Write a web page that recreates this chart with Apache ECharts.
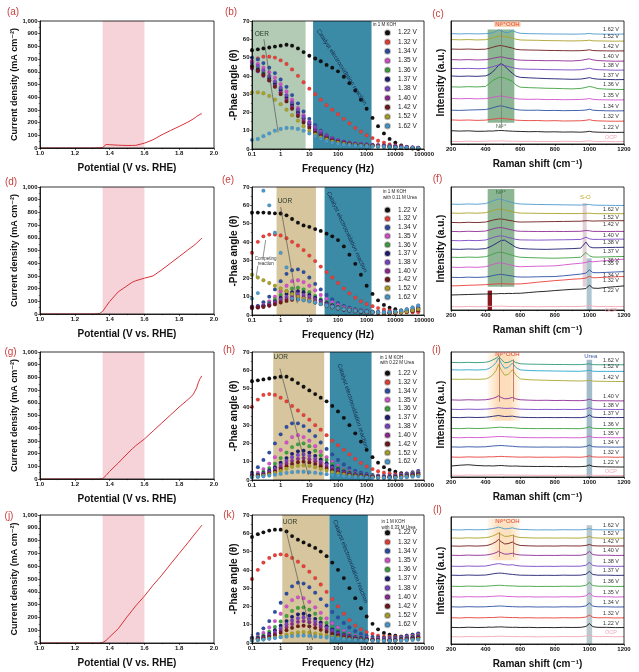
<!DOCTYPE html>
<html><head><meta charset="utf-8">
<script src="https://cdn.jsdelivr.net/npm/echarts@6/dist/echarts.min.js"></script>
<style>html,body{margin:0;padding:0;background:#fff}#c{width:639px;height:672px}</style>
</head><body><div id="c"></div>
<script>
// ================= DATA =================
const potentials = ['1.22 V','1.32 V','1.34 V','1.35 V','1.36 V','1.37 V','1.38 V','1.40 V','1.42 V','1.52 V','1.62 V'];
const ramanLabels = ['OCP','1.22 V','1.32 V','1.34 V','1.35 V','1.36 V','1.37 V','1.38 V','1.40 V','1.42 V','1.52 V','1.62 V'];
const panelLetters = ['(a)','(b)','(c)','(d)','(e)','(f)','(g)','(h)','(i)','(j)','(k)','(l)'];
const xTicksBode = [0.1,1,10,100,1000,10000,100000];

// LSV (current density vs potential)
const lsvX = [1.0,1.1,1.2,1.3,1.34,1.36,1.38,1.40,1.45,1.50,1.53,1.55,1.60,1.65,1.70,1.75,1.80,1.85,1.88,1.90,1.91,1.92,1.93];
const lsvA = [0,0,0,0,1,3,28,26,22,20,20,21,38,65,104,138,170,204,228,248,258,265,270];
const lsvD = [0,0,0,0,2,20,60,98,175,222,250,262,282,300,348,400,452,505,535,558,570,584,598];
const lsvG = [0,0,0,0,0,2,28,60,126,197,237,262,315,378,441,504,567,625,664,717,760,790,812];
const lsvJ = [0,0,0,0,0,3,20,47,112,204,255,290,366,452,530,616,700,783,835,869,885,903,920];
const lsvBand = [1.36,1.6];

// Bode phase (frequency in Hz)
const freq = [0.1,0.16,0.25,0.4,0.63,1,1.6,2.5,4,6.3,10,16,25,40,63,100,160,250,400,630,1000,1600,2500,4000,6300,10000,16000,25000,40000,63000];
const bodeB = [
 [54,54.5,55,55.5,56,56.5,57,56.5,55,53,51,49.5,48,46,44.5,42.5,39.5,36,32,27,22,17,12.5,8.5,5.5,3.5,2,1,0.3,0],
 [48,49.5,50.5,50.5,50,48.5,46.5,43.5,40,36.5,33,30,27,24,21.5,19,16.5,14,11.5,9.5,7.5,6,4.5,3.5,2.5,2,1.5,1,0.5,0.3],
 [50,49,47,44.5,41.5,38,34,29.5,25,20.5,16.5,13,10,7.5,5.8,4.6,3.8,3.2,2.8,2.6,2.4,2.2,2,1.8,1.6,1.4,1.2,1,0.8,0.6],
 [48,46.5,44.5,42,39,35.5,31.5,27,22.5,18.5,15,12,9.5,7.5,6,4.8,4,3.4,3,2.7,2.5,2.3,2.1,1.9,1.7,1.5,1.3,1.1,0.9,0.7],
 [46,44.5,42,39.5,36.5,33,29,25,21,17,14,11,8.8,7,5.6,4.6,3.8,3.2,2.8,2.5,2.3,2.1,1.9,1.7,1.5,1.3,1.1,0.9,0.7,0.5],
 [45,43.5,41,38.5,35.5,32,28,24,20,16.5,13.5,10.5,8.5,6.8,5.4,4.4,3.6,3,2.6,2.3,2.1,1.9,1.7,1.5,1.3,1.1,0.9,0.7,0.5,0.4],
 [47,45.5,43,40,37,33.5,29.5,25.5,21.5,17.5,14.5,11.5,9,7.2,5.8,4.7,3.9,3.3,2.9,2.6,2.4,2.2,2,1.8,1.6,1.4,1.2,1,0.8,0.6],
 [44,42.5,40,37.5,34.5,31,27,23,19,15.5,12.5,10,8,6.4,5.1,4.2,3.5,2.9,2.5,2.2,2,1.8,1.6,1.4,1.2,1,0.8,0.6,0.5,0.4],
 [45,43,40.5,37.5,34,30,26,22,18,14.5,11.5,9,7.2,5.8,4.7,3.9,3.2,2.7,2.3,2,1.8,1.6,1.4,1.2,1,0.8,0.6,0.5,0.4,0.3],
 [31,31,30.5,29,27,24.5,21.5,18.5,15.5,12.5,10,8,6.4,5.2,4.2,3.5,2.9,2.5,2.2,2,1.8,1.6,1.4,1.2,1,0.8,0.6,0.5,0.4,0.3],
 [5,5.5,7,8.5,10,11,11.5,11.5,11,10,8.5,7,5.5,4.3,3.4,2.8,2.4,2.1,1.9,1.7,1.5,1.3,1.2,1.1,1,0.9,0.8,0.7,0.6,0.5]
];
const bodeE = [
 [56,56,56,55.8,55.6,55.5,54.5,52.5,50.5,49,48.2,47,46,44.5,43,41,37.5,33,28,22,16,11.5,8,5.5,4,3.2,2.5,2,2,2],
 [34,40,43,44,44,43.5,42,40,38,35.5,32.5,29.5,26.5,23.5,20.5,17.5,14.5,11.8,9.5,7.5,6,4.8,3.8,3,2.5,2,1.7,1.5,1.5,1.6],
 [4,5,7,10,14,18.5,22.5,24.5,25,23.5,20.5,17,14,11,8.5,6.5,5,4,3.2,2.6,2.2,1.9,1.7,1.6,1.6,1.8,2.2,3,4,5],
 [4,4.5,5.5,7.5,10,13,16,18.5,19,18,16,13.5,11,8.8,7,5.5,4.3,3.5,2.9,2.5,2.1,1.8,1.6,1.5,1.5,1.6,2,2.6,3.4,4.2],
 [4,4.5,5,6.5,8.5,11,13,14.5,15,14,12.5,10.5,8.7,7,5.6,4.5,3.6,3,2.5,2.1,1.8,1.6,1.4,1.3,1.3,1.4,1.8,2.3,3,3.8],
 [4.5,4.5,5,6,7.5,9.5,11.5,12.5,13,12.5,11,9.5,8,6.5,5.2,4.2,3.4,2.8,2.3,2,1.7,1.5,1.3,1.2,1.2,1.3,1.6,2.1,2.8,3.5],
 [4.5,4.5,5,5.8,7,8.5,10,11,11.5,11,10,8.7,7.3,6,4.9,4,3.3,2.7,2.2,1.9,1.6,1.4,1.2,1.1,1.1,1.2,1.5,2,2.6,3.3],
 [4,4.2,4.6,5.3,6.3,7.6,8.8,9.6,10,9.6,8.8,7.8,6.6,5.5,4.5,3.7,3,2.5,2.1,1.8,1.5,1.3,1.2,1.1,1.1,1.2,1.4,1.8,2.4,3],
 [4,4.1,4.4,5,5.8,6.8,7.7,8.3,8.5,8.2,7.6,6.8,5.9,5,4.2,3.5,2.9,2.4,2,1.7,1.5,1.3,1.1,1,1,1.1,1.3,1.7,2.2,2.8],
 [22,20.5,19,17.5,16,14.5,13,11.5,10,9,8,7,6,5.2,4.5,3.8,3.2,2.7,2.3,2,1.7,1.5,1.3,1.2,1.2,1.3,1.5,1.9,2.5,3.2],
 [9,12,68,60,45,34,26,9,8.5,8,7.5,6.8,6,5.2,4.5,3.8,3.2,2.7,2.3,2,1.8,1.6,1.5,1.5,1.6,1.9,2.4,3.2,4.2,5.2]
];
const bodeH = [
 [54,54.5,55,55.5,56,56.5,56.5,55,53,51,49,47,45,43,40.5,37.5,34,30,25.5,21,16.5,12.5,9.5,7,5.5,4.5,3.8,3.3,3,3],
 [40,44,46.5,47,46.5,45,43,40.5,38,35.5,33,30,27.5,24.5,21.5,19,16.5,14,11.5,9.3,7.4,6,4.8,4,3.5,3.2,3.2,3.4,3.8,4.3],
 [4,7,11,15,20,25,29,31,31,29.5,27,24,20.5,17,14,11,8.5,6.5,5,4,3.3,2.8,2.5,2.3,2.3,2.5,3,3.6,4.3,5],
 [3,4,6,9,12.5,16.5,20.5,23.5,24.5,23.5,21.5,18.5,15.5,12.5,10,7.8,6,4.8,3.8,3.1,2.6,2.3,2.1,2,2,2.2,2.6,3.1,3.7,4.3],
 [2.5,3,4.5,6.5,9,12,15,18,19.5,20,18.5,16,13.5,11,8.8,6.9,5.4,4.3,3.5,2.9,2.4,2.1,1.9,1.8,1.8,2,2.3,2.8,3.3,3.9],
 [2.5,2.8,3.8,5.2,7,9.5,12,14.3,15.7,16,15,13.2,11.2,9.2,7.4,5.9,4.7,3.8,3.1,2.6,2.2,1.9,1.7,1.6,1.6,1.8,2.1,2.5,3,3.5],
 [2.5,2.7,3.4,4.6,6.2,8.3,10.5,12.5,13.7,14,13.2,11.7,10,8.3,6.7,5.4,4.3,3.5,2.9,2.4,2,1.8,1.6,1.5,1.5,1.6,1.9,2.3,2.7,3.2],
 [2,2.3,3,4,5.3,7,8.9,10.5,11.6,12,11.4,10.2,8.8,7.3,6,4.9,3.9,3.2,2.6,2.2,1.9,1.7,1.5,1.4,1.4,1.5,1.7,2.1,2.5,3],
 [2,2.2,2.7,3.5,4.6,6,7.5,8.8,9.7,10,9.6,8.7,7.5,6.3,5.2,4.3,3.5,2.9,2.4,2,1.7,1.5,1.4,1.3,1.3,1.4,1.6,1.9,2.3,2.7],
 [1.8,2,2.4,3,3.9,5,6.2,7.2,7.8,8,7.7,7,6.1,5.2,4.3,3.6,3,2.5,2.1,1.8,1.5,1.4,1.3,1.2,1.2,1.3,1.5,1.8,2.1,2.5],
 [1.5,1.7,2,2.4,2.9,3.4,3.9,4.3,4.5,4.5,4.3,4,3.6,3.2,2.8,2.4,2.1,1.8,1.6,1.4,1.3,1.2,1.1,1.1,1.1,1.2,1.3,1.5,1.8,2]
];
const bodeK = [
 [58,59.5,60.5,61.5,62,62,61,58.5,56.5,55,53.5,52,50,47.5,44,40,35.5,30,24.5,19,14.5,10.5,7.5,5.5,4.5,4,3.5,3,3,3],
 [35,40,44,46.5,48,48.5,48,46.5,44.5,42,39,35.5,32,28,24,20,16,12.5,9.5,7.5,6,5,4,3.5,3.5,3.5,3.5,4,4.5,5],
 [3,5,8,12,17,22,27,31,33,32.5,30.5,27.5,24,20.5,17,14,11,8.5,6.5,5,4,3.4,3,2.8,2.8,3,3.4,4,4.6,5.2],
 [2.5,3.5,5.5,8.5,12,16,20,23.5,25,24.5,22.5,19.5,16.5,13.5,10.8,8.5,6.6,5.1,4,3.2,2.7,2.4,2.2,2.1,2.1,2.3,2.7,3.2,3.8,4.4],
 [2.5,3,4.2,6.2,8.8,11.8,14.8,17.5,19.2,19.5,18.2,16,13.5,11,8.8,6.9,5.4,4.3,3.5,2.9,2.4,2.1,1.9,1.8,1.8,2,2.3,2.8,3.3,3.9],
 [2.2,2.6,3.5,5,7,9.5,12,14.3,15.7,16,15,13.2,11.2,9.2,7.4,5.9,4.7,3.8,3.1,2.6,2.2,1.9,1.7,1.6,1.6,1.8,2.1,2.5,3,3.5],
 [2,2.4,3.1,4.3,6,8.1,10.3,12.3,13.6,14,13.2,11.7,10,8.3,6.7,5.4,4.3,3.5,2.9,2.4,2,1.8,1.6,1.5,1.5,1.6,1.9,2.3,2.7,3.2],
 [2,2.2,2.8,3.8,5.1,6.8,8.7,10.4,11.6,12,11.4,10.2,8.8,7.3,6,4.9,3.9,3.2,2.6,2.2,1.9,1.7,1.5,1.4,1.4,1.5,1.7,2.1,2.5,3],
 [1.8,2,2.5,3.3,4.3,5.6,7,8.3,9.2,9.5,9.1,8.3,7.2,6.1,5,4.1,3.4,2.8,2.3,1.9,1.7,1.5,1.4,1.3,1.3,1.4,1.6,1.9,2.3,2.7],
 [1.5,1.7,2,2.5,3.1,3.8,4.6,5.3,5.8,6,5.8,5.3,4.7,4.1,3.5,3,2.5,2.1,1.8,1.6,1.4,1.3,1.2,1.1,1.1,1.2,1.4,1.6,1.9,2.2],
 [1.4,1.6,1.9,2.3,2.7,3.1,3.5,3.8,4,4.1,3.9,3.6,3.3,3,2.7,2.4,2.1,1.8,1.6,1.4,1.3,1.2,1.1,1.1,1.1,1.2,1.3,1.5,1.7,1.9]
];

// Raman spectra (offset intensities, a.u.), order = ramanLabels
const ramanX = [200,250,300,350,400,420,440,460,475,490,510,530,555,575,600,650,700,750,800,850,900,950,980,1000,1020,1050,1100,1150,1200];
const ramanC = [
 [2.2,2.0,2.3,2.1,2.2,2.4,2.3,2.5,2.4,2.6,2.4,2.3,2.2,2.3,2.1,2.2,2.0,2.1,2.0,2.2,2.1,2.0,2.3,2.6,2.2,2.0,2.1,1.9,2.0],
 [10.8,10.5,10.7,10.3,10.4,10.6,10.5,10.8,10.9,11.0,10.8,10.6,10.4,10.3,10.2,10.0,10.1,9.8,9.9,9.7,9.8,9.6,9.9,10.3,9.8,9.6,9.5,9.4,9.5],
 [19.6,19.3,19.5,19.2,19.4,19.8,20.2,20.5,20.8,21.0,20.6,20.3,19.9,19.4,19.2,19.0,19.1,18.8,19.0,18.7,18.8,18.9,19.3,19.8,19.1,18.8,18.6,18.5,18.6],
 [27.5,27.3,27.6,27.8,28.0,28.6,29.4,30.2,30.8,31.0,30.4,29.6,28.8,28.0,27.6,27.4,27.5,27.2,27.3,27.1,27.2,27.3,27.6,28.3,27.5,27.2,27.0,26.9,27.0],
 [37.0,36.8,37.0,36.7,36.9,37.3,37.9,38.4,38.8,39.0,38.6,38.0,37.4,36.8,36.5,36.3,36.4,36.1,36.2,36.0,36.1,36.2,36.5,37.0,36.3,36.0,35.9,35.8,35.9],
 [46.5,46.3,46.6,46.4,46.8,49.0,51.5,53.0,54.0,54.4,53.6,52.5,51.0,48.0,46.2,45.8,45.6,45.3,45.2,45.0,44.8,45.2,46.0,46.8,46.2,45.0,44.6,44.4,44.3],
 [55.3,55.0,55.2,55.0,55.4,56.5,58.5,61.5,64.0,65.5,63.5,60.5,57.5,55.2,54.2,53.8,53.5,53.2,53.0,52.8,52.6,52.8,53.4,54.0,53.2,52.7,52.5,52.3,52.4],
 [61.5,61.3,61.5,61.2,61.4,62.0,62.8,63.6,64.2,64.4,63.8,63.0,62.2,61.4,61.0,60.8,60.7,60.5,60.4,60.3,60.2,60.4,61.0,61.6,60.8,60.4,60.2,60.0,60.1],
 [68.6,68.4,68.6,68.3,68.5,69.0,69.6,70.2,70.6,70.8,70.3,69.7,69.2,68.5,68.2,68.0,67.9,67.7,67.8,67.6,67.5,68.0,68.8,69.2,68.4,67.8,67.5,67.3,67.4],
 [77.2,77.0,77.2,76.9,77.1,77.8,78.6,79.4,79.9,80.0,79.5,78.8,78.0,77.0,76.6,76.4,76.3,76.1,76.0,75.9,75.8,75.9,76.2,76.6,76.0,75.8,75.7,75.6,75.7],
 [84.9,84.7,84.9,84.6,84.8,85.4,86.2,87.0,87.6,87.8,87.4,86.8,86.2,85.2,84.6,84.4,84.3,84.1,84.0,83.9,83.8,83.9,84.1,84.4,83.9,83.8,83.7,83.6,83.7],
 [89.7,89.5,89.7,89.5,89.7,89.9,90.4,91.5,92.8,92.0,90.8,90.6,92.2,91.0,90.0,89.7,89.6,89.5,89.4,89.4,89.3,89.4,89.6,89.9,89.5,89.4,89.3,89.3,89.4]
];
const ramanF = [
 [2.8,2.6,2.9,2.7,2.8,3.0,2.9,3.1,3.0,3.2,3.0,2.9,2.8,2.9,2.7,2.8,2.6,2.8,2.7,2.9,2.8,2.9,3.2,3.8,3.1,2.8,2.9,2.7,2.8],
 [12.2,12.4,12.6,12.8,13.0,13.0,13.2,13.1,13.3,13.4,13.3,13.5,13.4,13.6,13.6,14.2,14.8,15.2,15.8,16.3,16.8,17.0,17.4,20.2,17.8,17.6,18.4,19.0,19.6],
 [19.6,19.8,20.1,20.3,20.6,20.8,21.0,21.2,21.3,21.4,21.3,21.2,21.1,21.2,21.2,21.8,22.6,23.2,23.9,24.4,25.0,25.4,26.0,27.4,26.2,26.3,26.7,27.0,27.2],
 [26.6,26.4,26.7,26.5,26.8,27.3,27.9,28.5,28.8,29.0,28.6,28.1,27.6,27.0,26.8,26.8,27.0,27.1,27.2,27.8,28.5,29.2,30.0,32.6,30.4,30.3,30.6,30.9,31.2],
 [34.8,34.6,34.9,34.7,35.2,36.0,37.0,37.8,38.2,38.3,37.8,37.0,36.3,35.5,35.2,35.4,35.6,35.7,35.9,36.6,37.4,38.0,38.6,39.6,39.2,39.6,40.2,40.8,41.3],
 [42.9,42.7,43.0,42.8,43.3,44.2,45.4,46.4,46.9,47.0,46.4,45.5,44.5,43.5,42.9,42.6,42.4,42.2,42.1,42.3,42.5,42.9,46.8,44.0,43.1,43.0,43.2,43.4,43.5],
 [49.5,49.3,49.6,49.4,49.9,51.0,52.4,54.0,55.3,56.5,56.8,55.0,52.8,51.0,50.0,49.6,49.4,49.3,49.5,49.7,49.9,50.3,55.2,51.4,50.6,50.6,50.8,50.9,51.0],
 [56.5,56.3,56.6,56.4,56.9,57.8,58.8,59.6,60.1,60.3,59.8,59.0,58.2,57.4,57.0,56.9,56.8,56.9,57.0,57.1,57.2,57.4,59.2,57.9,57.4,57.4,57.5,57.6,57.6],
 [63.9,63.7,64.0,63.8,64.2,65.0,65.9,66.6,66.9,67.0,66.5,65.8,65.0,64.3,64.0,63.9,63.8,63.8,63.9,63.8,63.9,64.0,64.6,64.4,63.9,63.9,63.8,63.9,63.9],
 [71.2,71.0,71.3,71.1,71.5,72.2,73.0,73.6,73.9,74.0,73.6,73.0,72.4,71.8,71.5,71.6,71.7,71.8,71.9,72.0,72.1,72.2,72.6,72.5,72.3,72.4,72.5,72.6,72.6],
 [78.8,78.6,78.9,78.7,79.1,79.9,80.8,81.5,81.9,82.0,81.5,80.7,80.0,79.2,78.8,78.7,78.6,78.5,78.5,78.4,78.4,78.4,78.6,78.7,78.4,78.3,78.3,78.3,78.3],
 [86.1,85.9,86.2,86.0,86.5,87.4,88.6,89.6,90.2,90.0,89.2,88.2,87.4,86.6,86.2,86.0,85.8,85.7,85.6,85.5,85.4,85.3,85.6,85.8,85.3,85.2,85.1,85.0,85.0]
];
const ramanI = [
 [1.5,1.3,1.6,1.4,1.5,1.6,1.5,1.7,1.6,1.8,1.6,1.5,1.6,1.5,1.4,1.5,1.3,1.4,1.3,1.5,1.4,1.3,1.5,1.8,1.4,1.3,1.4,1.2,1.3],
 [8.8,9.4,9.8,9.2,8.9,9.0,8.8,9.0,9.1,9.2,9.0,8.8,8.7,8.8,8.6,8.5,8.4,8.5,8.3,8.4,8.2,8.3,8.6,9.6,8.5,8.2,8.1,8.0,8.0],
 [16.0,15.8,16.1,15.9,16.0,16.2,16.1,16.3,16.4,16.5,16.3,16.2,16.1,16.0,15.9,16.0,15.8,15.9,15.8,16.0,15.9,15.8,16.2,17.0,16.1,15.9,16.0,15.8,15.9],
 [24.1,23.9,24.2,24.0,24.2,24.5,24.8,25.0,25.1,25.2,25.0,24.8,24.6,24.3,24.1,24.0,23.9,24.0,23.9,24.0,23.9,23.9,24.3,25.6,24.2,24.0,24.0,23.9,24.0],
 [31.6,31.4,31.7,31.5,31.7,31.9,32.1,32.3,32.4,32.4,32.3,32.1,32.0,31.8,31.6,31.5,31.4,31.5,31.4,31.5,31.4,31.4,31.8,32.8,31.7,31.5,31.5,31.4,31.5],
 [38.9,38.7,39.0,38.8,39.0,39.2,39.4,39.6,39.8,39.8,39.6,39.5,39.5,39.2,38.9,38.8,38.7,38.8,38.7,38.8,38.7,38.7,39.2,40.3,39.0,38.8,38.8,38.7,38.8],
 [47.7,47.5,47.8,47.6,47.8,48.1,48.5,48.9,49.2,48.8,48.4,48.5,48.7,48.2,47.8,47.6,47.5,47.6,47.5,47.6,47.5,47.5,48.0,49.7,47.9,47.6,47.6,47.5,47.6],
 [54.2,54.0,54.3,54.1,54.3,54.5,54.8,55.1,55.4,55.2,54.9,54.9,55.1,54.7,54.3,54.1,54.0,54.1,54.0,54.1,54.0,54.0,54.4,55.5,54.3,54.1,54.1,54.0,54.1],
 [61.7,61.5,61.8,61.6,61.8,62.2,62.8,63.8,65.0,63.6,62.6,62.7,63.7,62.5,61.8,61.5,61.3,61.4,61.2,61.3,61.1,61.1,61.4,62.3,61.2,61.0,61.0,60.9,60.9],
 [78.3,78.1,78.3,78.1,78.4,79.5,81.5,85.0,90.0,85.5,81.5,82.0,85.8,81.5,78.5,77.8,77.6,77.4,77.2,77.1,76.9,76.8,77.0,77.4,76.7,76.6,76.5,76.4,76.4],
 [85.8,85.6,85.8,85.6,85.9,86.8,88.6,91.5,95.2,91.0,87.0,87.6,91.2,87.6,85.7,85.2,85.0,84.9,84.8,84.7,84.6,84.6,84.9,85.4,84.6,84.5,84.5,84.5,84.5],
 [91.7,91.5,91.7,91.5,91.8,92.4,93.6,95.0,96.5,94.2,91.5,91.6,93.3,91.6,90.6,90.3,90.2,90.1,90.0,90.0,89.9,89.9,90.2,90.6,89.9,89.8,89.8,89.8,89.8]
];
const ramanL = [
 [5.8,5.6,5.9,5.7,5.8,6.0,5.9,6.1,6.0,6.2,6.0,5.9,5.8,5.9,5.7,5.8,5.6,5.8,5.7,5.9,5.8,5.8,6.2,7.3,6.0,5.8,5.9,5.7,5.8],
 [13.1,12.9,13.2,13.0,13.1,13.3,13.2,13.4,13.4,13.5,13.3,13.2,13.1,13.2,13.0,13.1,12.9,13.0,12.9,13.1,13.0,13.1,13.8,16.1,13.6,13.1,13.1,12.9,13.0],
 [20.7,20.5,20.8,20.6,20.7,20.9,20.8,21.0,21.1,21.2,21.0,20.9,20.8,20.8,20.6,20.7,20.5,20.6,20.5,20.7,20.6,20.7,21.2,22.8,21.0,20.6,20.7,20.5,20.6],
 [29.3,29.1,29.4,29.2,29.3,29.5,29.6,29.8,29.9,29.9,29.7,29.5,29.4,29.3,29.2,29.3,29.1,29.2,29.1,29.3,29.2,29.3,30.0,32.3,29.8,29.3,29.3,29.1,29.2],
 [37.2,37.0,37.3,37.1,37.2,37.4,37.5,37.7,37.8,37.8,37.6,37.4,37.3,37.2,37.1,37.2,37.0,37.1,37.0,37.2,37.1,37.2,37.9,40.2,37.7,37.2,37.2,37.0,37.1],
 [45.5,45.3,45.6,45.4,45.5,45.7,45.9,46.1,46.2,46.2,46.0,45.8,45.7,45.6,45.4,45.5,45.3,45.4,45.3,45.5,45.4,45.5,46.2,48.5,46.0,45.5,45.5,45.3,45.4],
 [54.2,54.0,54.3,54.1,54.3,54.7,55.2,55.6,55.8,55.8,55.5,55.1,54.8,54.5,54.2,54.1,54.0,54.1,54.0,54.2,54.1,54.2,54.9,57.2,54.7,54.2,54.2,54.0,54.1],
 [61.3,61.1,61.4,61.2,61.4,61.9,62.5,63.0,63.3,63.0,62.5,62.2,62.4,61.9,61.4,61.2,61.1,61.2,61.1,61.3,61.2,61.3,62.0,64.3,61.8,61.3,61.3,61.1,61.2],
 [69.9,69.7,70.0,69.8,70.0,70.4,71.0,71.9,73.0,71.8,70.8,70.8,71.5,70.6,70.1,69.9,69.7,69.8,69.7,69.9,69.8,69.9,70.6,72.9,70.4,69.9,69.9,69.7,69.8],
 [77.2,77.0,77.3,77.1,77.4,78.0,79.0,80.5,82.3,80.5,78.8,79.0,80.3,78.6,77.6,77.3,77.1,77.2,77.1,77.3,77.2,77.2,77.6,78.4,77.4,77.2,77.2,77.1,77.2],
 [83.5,83.3,83.6,83.4,83.7,84.2,85.0,86.2,87.4,86.2,84.8,84.8,85.6,84.5,83.8,83.6,83.4,83.5,83.4,83.5,83.4,83.4,83.8,84.8,83.6,83.4,83.4,83.3,83.4],
 [90.0,89.8,90.1,89.9,90.1,90.4,90.9,91.5,92.1,91.5,90.7,90.8,91.5,90.7,90.2,90.0,89.8,89.9,89.8,90.0,89.9,89.9,90.2,90.8,90.0,89.9,89.9,89.8,89.9]
];

// ================= STYLE =================
const FONT = '"Liberation Sans", Arial, "DejaVu Sans", sans-serif';
const seriesColors = ['#111111','#e8403a','#2d4fa3','#d452cc','#3fa142','#1e1e72','#7b45c4','#8e2b94','#6f1b1b','#aaa22a','#4b9acb'];
const OCP_COLOR = '#f2a7b6';
const LSV_COLOR = '#d8323a';

const option = {animation:false, backgroundColor:'#fff', grid:[], xAxis:[], yAxis:[], series:[], legend:[]};

function deepMerge(a,b){ for(const k in b){ if(b[k] && typeof b[k]==='object' && !Array.isArray(b[k]) && !(b[k] instanceof echarts.graphic.LinearGradient) && a[k] && typeof a[k]==='object') deepMerge(a[k],b[k]); else a[k]=b[k]; } return a; }
function axisBase(name,gap,extra){
  return deepMerge({
    name, nameLocation:'middle', nameGap:gap, z:6,
    nameTextStyle:{fontFamily:FONT,fontWeight:'bold',fontSize:10,color:'#111'},
    axisLine:{show:true,onZero:false,lineStyle:{color:'#000',width:0.8}},
    axisTick:{show:true,inside:false,length:2,lineStyle:{color:'#000',width:0.6}},
    minorTick:{show:true,splitNumber:2,length:1.2,lineStyle:{color:'#000',width:0.5}},
    axisLabel:{fontFamily:FONT,fontWeight:'bold',fontSize:6,color:'#111',margin:2.5},
    splitLine:{show:false}, minorSplitLine:{show:false}
  }, extra||{});
}
function addGrid(r){ option.grid.push({left:r[0],top:r[1],width:r[2],height:r[3],show:true,borderColor:'#000',borderWidth:0.8,backgroundColor:'transparent',z:6,outerBoundsMode:'none',containLabel:false}); return option.grid.length-1; }

function lsvPanel(rect, vals){
  const gi = addGrid(rect);
  option.xAxis.push(axisBase('Potential (V vs. RHE)',15,{gridIndex:gi,type:'value',min:1,max:2,interval:0.2,axisLabel:{formatter:v=>v.toFixed(1)}}));
  option.yAxis.push(axisBase('Current density (mA cm⁻²)',16,{gridIndex:gi,type:'value',min:0,max:1000,interval:100,nameTextStyle:{fontSize:9}}));
  option.series.push({type:'line',xAxisIndex:gi,yAxisIndex:gi,data:lsvX.map((x,i)=>[x,vals[i]]),symbol:'none',lineStyle:{color:LSV_COLOR,width:1},z:3,
    markArea:{silent:true,itemStyle:{color:'rgba(230,140,152,0.38)'},data:[[{xAxis:lsvBand[0]},{xAxis:lsvBand[1]}]]}});
}
function bodePanel(rect, sets, bands, arrows, legendTop, legendGap){
  const gi = addGrid(rect);
  option.xAxis.push(axisBase('Frequency (Hz)',15,{gridIndex:gi,type:'log',logBase:10,min:xTicksBode[0],max:xTicksBode[xTicksBode.length-1],
    axisLabel:{formatter:v=> v<1 ? v.toFixed(1) : String(Math.round(v))}}));
  option.yAxis.push(axisBase('-Phae angle (θ)',11,{gridIndex:gi,type:'value',min:0,max:70,interval:10}));
  sets.forEach((vals,k)=>{
    const s = {type:'scatter',name:potentials[k],xAxisIndex:gi,yAxisIndex:gi,symbol:'circle',symbolSize:3.8,
      itemStyle:{color:seriesColors[k],opacity:1,borderColor:'rgba(0,0,0,0.25)',borderWidth:0.3},data:freq.map((f,i)=>[f,vals[i]]),z:3};
    if(k===0){
      s.markArea = {silent:true,data:bands.map(b=>[{xAxis:b[0],itemStyle:{color:b[2]}},{xAxis:b[1]}])};
      s.markLine = {silent:true,symbol:['none','arrow'],symbolSize:[0,4],label:{show:false},lineStyle:{color:'#444',width:0.6,type:'solid'},
        data:arrows.map(a=>[{coord:[a[0],a[1]]},{coord:[a[2],a[3]]}])};
    }
    option.series.push(s);
  });
  option.legend.push({data:potentials,left:384,top:legendTop,orient:'vertical',padding:0,itemWidth:5,itemHeight:5,itemGap:legendGap,icon:'circle',selectedMode:false,
    textStyle:{fontFamily:FONT,fontSize:6.5,color:'#222',lineHeight:8,padding:[0,0,0,3]}});
}
function ramanPanel(rect, sets, colorOverride, areas, vlines){
  const gi = addGrid(rect);
  option.xAxis.push(axisBase('Raman shift (cm⁻¹)',15,{gridIndex:gi,type:'value',min:200,max:1200,interval:200,axisLabel:{formatter:v=>String(v)}}));
  option.yAxis.push(axisBase('Intensity (a.u.)',5,{gridIndex:gi,type:'value',min:0,max:100,axisLabel:{show:false},axisTick:{show:false},minorTick:{show:false}}));
  sets.forEach((vals,k)=>{
    const nm = ramanLabels[k];
    const col = k===0 ? OCP_COLOR : (colorOverride[nm] || seriesColors[k-1]);
    const s = {type:'line',name:nm,xAxisIndex:gi,yAxisIndex:gi,symbol:'none',lineStyle:{color:col,width:0.9},data:ramanX.map((x,i)=>[x,vals[i]]),z:3};
    if(k===0){
      s.markArea = {silent:true,data:areas.map(a=>[{coord:[a.x[0],a.y[0]],itemStyle:{color:a.color}},{coord:[a.x[1],a.y[1]]}])};
      s.markLine = {silent:true,symbol:['none','none'],label:{show:false},data:vlines.map(v=>[{coord:[v.x,v.y[0]],lineStyle:{color:v.color,width:0.7,type:'solid'}},{coord:[v.x,v.y[1]]}])};
    }
    option.series.push(s);
  });
}

const TEAL = '#3b8ba7', TAN = '#d6c59d', SAGE = '#b3cbb5';
const orangeGrad = new echarts.graphic.LinearGradient(0,0,1,0,[{offset:0,color:'rgba(252,205,150,0.15)'},{offset:0.3,color:'rgba(250,195,130,0.55)'},{offset:0.7,color:'rgba(250,195,130,0.55)'},{offset:1,color:'rgba(252,205,150,0.15)'}]);
const orangeGrad2 = new echarts.graphic.LinearGradient(0,0,1,0,[{offset:0,color:'rgba(252,205,150,0.15)'},{offset:0.3,color:'rgba(250,195,130,0.5)'},{offset:0.7,color:'rgba(250,195,130,0.5)'},{offset:1,color:'rgba(252,205,150,0.15)'}]);

// Row 1
lsvPanel([40,21,174,127], lsvA);
bodePanel([252,21,172,128], bodeB, [[0.1,7.4,SAGE],[13.5,1480,TEAL]], [[0.26,60,0.82,9]], 28.7, 1.33);
ramanPanel([451,21,173,123], ramanC, {}, [{x:[412,566],y:[17.3,93],color:'rgba(70,135,80,0.62)'}], [{x:490,y:[12.7,93],color:'#777'}]);
// Row 2
lsvPanel([40,187,174,127], lsvD);
bodePanel([252,187,172,128], bodeE, [[0.72,17,TAN],[34,1480,TEAL]], [[1.0,59,3.8,6.4],[0.24,31,0.3,41],[0.16,27,0.14,21]], 206, 0.7);
ramanPanel([451,187,173,123], ramanF, {}, [
  {x:[412,566],y:[19,98.4],color:'rgba(70,135,80,0.62)'},
  {x:[961,984],y:[19,87],color:'rgba(200,170,180,0.55)'},
  {x:[984,1013],y:[0,42],color:'rgba(110,150,170,0.55)'},
  {x:[412,437],y:[0,15.8],color:'#8a1a1e'}], [{x:490,y:[19,98.4],color:'#777'}]);
// Row 3
lsvPanel([40,352,174,127], lsvG);
bodePanel([252,352,172,128], bodeH, [[0.55,33,TAN],[52,1480,TEAL]], [[0.94,61,9.2,2.7]], 369.3, 0.84);
ramanPanel([451,352,173,125], ramanI, {'1.42 V':'#a9a832','1.52 V':'#2aa6c8','1.62 V':'#2e9a78'}, [
  {x:[412,599],y:[45,99],color:orangeGrad},
  {x:[984,1016],y:[0,93.8],color:'rgba(100,145,165,0.6)'}], [{x:477,y:[60.3,96.5],color:'#b05040'},{x:557,y:[60.3,94],color:'#b05040'}]);
// Row 4
lsvPanel([40,515,174,128], lsvJ);
bodePanel([252,515,172,128], bodeK, [[1.14,49,TAN],[50,1100,TEAL]], [[1.52,61.8,13,1.6]], 528.7, 1.2);
ramanPanel([451,517,173,127], ramanL, {}, [
  {x:[412,600],y:[66,98.7],color:orangeGrad2},
  {x:[984,1016],y:[0,93.5],color:'rgba(120,150,160,0.5)'}], [{x:477,y:[68.6,88],color:'#b05040'},{x:557,y:[68.6,86],color:'#b05040'}]);

const chart = echarts.init(document.getElementById('c'), null, {renderer:'canvas', width:639, height:672});
chart.setOption(option);

// ================= ANNOTATIONS =================
const graphics = [];
function px(gi,x,y){ return chart.convertToPixel({xAxisIndex:gi,yAxisIndex:gi},[x,y]); }
function txt(x,y,text,opt){ opt=opt||{}; graphics.push({type:'text',x,y,rotation:opt.rot||0,z:20,style:{text,fill:opt.fill||'#222',font:(opt.weight||'normal')+' '+(opt.size||6)+'px '+FONT,align:opt.align||'center',verticalAlign:'middle',backgroundColor:opt.bg,padding:opt.bg?[0,1]:0}}); }

const letterPos = [[13,12.5],[231,12],[438,14],[11,182.5],[228,180.7],[437.5,179],[10.5,352.7],[229,350.7],[436.5,350],[9,516],[229,515],[437.5,510.7]];
panelLetters.forEach((t,i)=>txt(letterPos[i][0],letterPos[i][1],t,{fill:'#c8403e',size:10}));

// Bode headers
txt(373,25,'in 1 M KOH',{align:'left',size:4.5});
txt(383,192,'in 1 M KOH',{align:'left',size:4.5}); txt(383,197.5,'with 0.11 M Urea',{align:'left',size:4.5});
txt(380,357.5,'in 1 M KOH',{align:'left',size:4.5}); txt(380,363,'with 0.22 M Urea',{align:'left',size:4.5});
txt(381.5,522,'in 1 M KOH',{align:'left',size:4.5}); txt(381.5,527.5,'with 0.33 M Urea',{align:'left',size:4.5});

// Bode notes (data coords)
const bodeNotes = [
  {gi:1,t:'OER',p:[0.22,63]},{gi:4,t:'UOR',p:[1.4,62]},{gi:7,t:'UOR',p:[1.0,67]},{gi:10,t:'UOR',p:[2.1,66]}];
bodeNotes.forEach(n=>{const q=px(n.gi,n.p[0],n.p[1]); txt(q[0],q[1],n.t,{size:6.5,fill:'#2a3a2a'});});
const catalyst = [{gi:1,p:[135,44.8],a:57.5},{gi:4,p:[205,45.4],a:65},{gi:7,p:[328,40.5],a:72},{gi:10,p:[268,44.6],a:69}];
catalyst.forEach(n=>{const q=px(n.gi,n.p[0],n.p[1]); txt(q[0],q[1],'Catalyst electrooxidation reaction',{size:6,fill:'#16284a',rot:-n.a*Math.PI/180});});
{const q=px(4,0.3,29.3); graphics.push({type:'text',x:q[0],y:q[1],z:20,style:{text:'Competing\nreaction',fill:'#333',font:'normal 4.5px '+FONT,align:'center',verticalAlign:'middle',lineHeight:5.5}});}

// Raman notes
const ramanNotes = [
  {gi:2,t:'Ni³⁺OOH',p:[526,97.5],fill:'#e0402e',bg:'rgba(250,195,150,0.7)'},
  {gi:2,t:'Ni²⁺',p:[490,14],fill:'#4f6f55'},
  {gi:5,t:'Ni³⁺',p:[489,95.4],fill:'#2f6f3a'},
  {gi:5,t:'S-O',p:[977,91.6],fill:'#c8a828'},
  {gi:8,t:'Ni³⁺OOH',p:[526,98],fill:'#e0402e'},
  {gi:8,t:'Urea',p:[1008,96.2],fill:'#3a5aa8'},
  {gi:11,t:'Ni³⁺OOH',p:[526,96.3],fill:'#e0402e'}];
ramanNotes.forEach(n=>{const q=px(n.gi,n.p[0],n.p[1]); txt(q[0],q[1],n.t,{size:6,fill:n.fill,bg:n.bg});});

// Raman trace labels
const ramanSets = [[2,ramanC,3.8],[5,ramanF,-3],[8,ramanI,3.6],[11,ramanL,3.6]];
ramanSets.forEach(([gi,sets,off])=>{
  sets.forEach((vals,k)=>{
    const q = px(gi,1125,vals[27]+off);
    txt(q[0],q[1],ramanLabels[k],{size:5.5,fill:k===0?OCP_COLOR:'#333'});
  });
});

chart.setOption({graphic:graphics});
</script></body></html>
